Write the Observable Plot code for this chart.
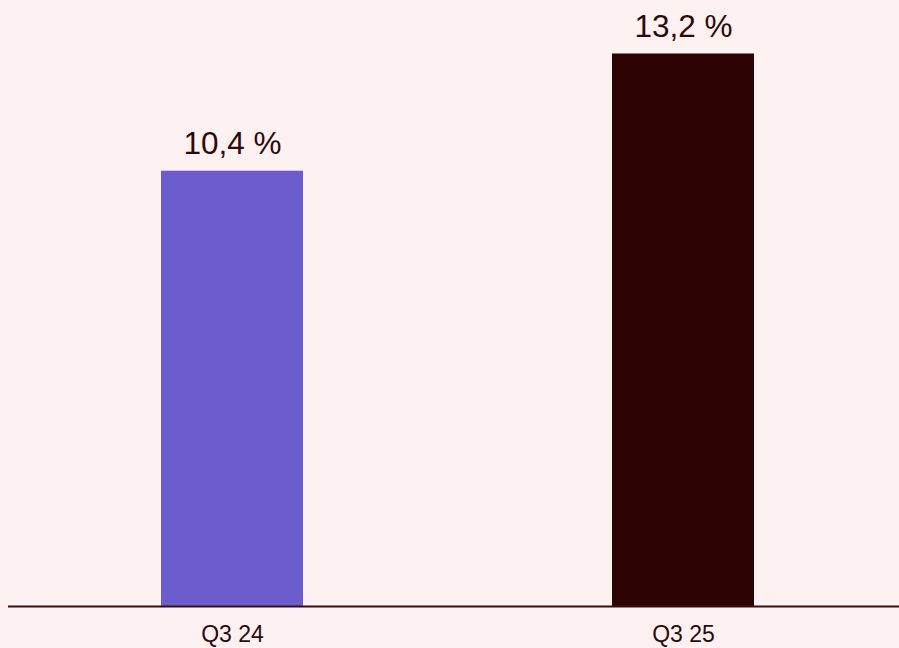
<!DOCTYPE html>
<html>
<head>
<meta charset="utf-8">
<script src="https://cdn.jsdelivr.net/npm/d3@7"></script>
<script src="https://cdn.jsdelivr.net/npm/@observablehq/plot@0.6"></script>
<style>
  html, body { margin: 0; padding: 0; background: #fdf1f1; }
  #chart svg { display: block; }
</style>
</head>
<body>
<div id="chart"></div>
<script>
const categories = ["Q3 24", "Q3 25"];
const values = [10.4, 13.2];
const labels = ["10,4 %", "13,2 %"];
const colors = ["#6c5dcf", "#2d0303"];

const data = categories.map((c, i) => ({ cat: c, value: values[i], label: labels[i], color: colors[i] }));

const chart = Plot.plot({
  width: 899,
  height: 648,
  marginTop: 20,
  marginBottom: 42,
  marginLeft: 8,
  marginRight: 0,
  style: { background: "#fdf1f1", fontFamily: "Liberation Sans, Arial, sans-serif", color: "#2d0a0a" },
  x: { domain: categories, paddingInner: 0.685, paddingOuter: 0.33, align: 0.513, label: null },
  y: { domain: [0, 14], axis: null },
  marks: [
    Plot.barY(data, { x: "cat", y: "value", fill: "color" }),
    Plot.ruleY([0], { stroke: "#3a0c0c", strokeWidth: 2 }),
    Plot.text(data, { x: "cat", y: "value", text: "label", lineAnchor: "bottom", dy: -17, fontSize: 31.5, fill: "#2d0a0a" }),
    Plot.axisX({ tickSize: 0, tickPadding: 19, fontSize: 23, label: null, fill: "#2d0a0a" })
  ]
});
document.getElementById("chart").appendChild(chart);
</script>
</body>
</html>
